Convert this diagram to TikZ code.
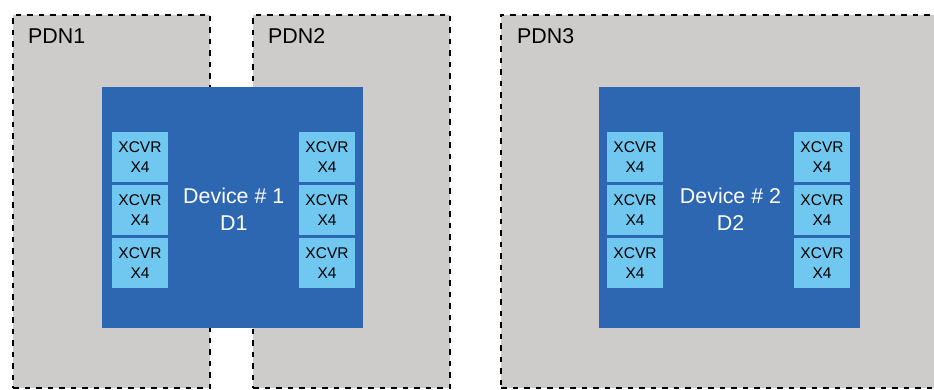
\documentclass[tikz,border=0pt]{standalone}
\usepackage{fontspec}
\setmainfont{Liberation Sans}
\definecolor{pdngray}{RGB}{205,204,203}
\definecolor{devblue}{RGB}{46,103,177}
\definecolor{xcvrblue}{RGB}{112,200,240}
\tikzset{
  pdnbox/.style={draw=black, fill=pdngray, line width=2pt, dash pattern=on 5.5pt off 6pt,
    minimum height=373pt, inner sep=0pt},
  pdnlabel/.style={anchor=base west, inner sep=0pt, font=\fontsize{21.4}{25}\selectfont},
  devbox/.style={fill=devblue, minimum width=261pt, minimum height=240.7pt, inner sep=0pt},
  devlabel/.style={text=white, align=center, font=\fontsize{21.4}{27.7}\selectfont},
  xcvrbox/.style={fill=xcvrblue, minimum width=56pt, minimum height=50pt, inner sep=0pt,
    align=center, font=\fontsize{15.5}{19.3}\selectfont}
}
\begin{document}
\begin{tikzpicture}[x=1pt, y=-1pt]
      \useasboundingbox (0,0) rectangle (934,390);
      %
      \node[pdnbox, minimum width=197pt] (pdnA) at (111.5,201.2) {};   % power domains
      \node[pdnbox, minimum width=197pt] (pdnB) at (351.5,201.2) {};
      \node[pdnbox, minimum width=459pt] (pdnC) at (730.5,201.2) {};   % runs off the right edge
      %
      \node[pdnlabel] (labA) at (28,43.3) {PDN1};
      \node[pdnlabel] (labB) at (268,43.3) {PDN2};
      \node[pdnlabel] (labC) at (517,43.3) {PDN3};
      %
      \node[devbox] (devA) at (232.2,207.3) {};                        % devices
      \node[devbox] (devB) at (729.5,207.3) {};
      \node[devlabel] (txtA) at (233.8,209.2) {Device \# 1\\D1};
      \node[devlabel] (txtB) at (730.5,209.2) {Device \# 2\\D2};
      %
      \foreach \y [count=\i] in {157,210,263} {                        % transceivers
        \node[xcvrbox] (xal\i) at (140,\y) {XCVR\\X4};
        \node[xcvrbox] (xar\i) at (327,\y) {XCVR\\X4};
        \node[xcvrbox] (xbl\i) at (635,\y) {XCVR\\X4};
        \node[xcvrbox] (xbr\i) at (822,\y) {XCVR\\X4};
      }
      %
\end{tikzpicture}
\end{document}
